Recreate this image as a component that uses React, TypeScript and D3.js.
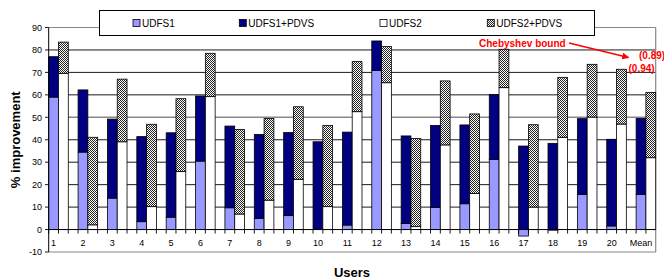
import React from "react";
import * as d3 from "d3";

const categories = ["1","2","3","4","5","6","7","8","9","10","11","12","13","14","15","16","17","18","19","20","Mean"];
const udfs1 = [59, 34.5, 14, 3.5, 5.5, 30.5, 9.7, 5, 6.2, 0, 2, 70.8, 2.7, 9.9, 11.5, 31.3, -2.9, -0.3, 15.7, 1.6, 15.7];
const udfs1Pdvs = [77, 62.2, 49.2, 41.4, 43.1, 59.5, 46.1, 42.4, 43.2, 39.1, 43.4, 84, 41.7, 46.4, 46.6, 60.1, 37.2, 38.4, 49.4, 40.2, 49.5];
const udfs2 = [69.6, 2.1, 39.1, 10.2, 25.8, 59.2, 6.9, 13.1, 22.4, 10.2, 52.5, 65.4, 1.3, 37.7, 16.1, 63.2, 10, 41.1, 50.1, 47, 32];
const udfs2Pdvs = [83.5, 41.1, 67, 46.9, 58.3, 78.5, 44.6, 49.5, 54.7, 46.4, 74.8, 81.5, 40.6, 66.2, 51.5, 80.3, 46.7, 67.8, 73.6, 71.4, 61.1];
const yTicks = [-10, 0, 10, 20, 30, 40, 50, 60, 70, 80, 90];
const legendItems = ["UDFS1", "UDFS1+PDVS", "UDFS2", "UDFS2+PDVS"];
const annotation = { label: "Chebyshev bound", a: "(0.89)", b: "(0.94)" };

const W = 664, H = 278;
const FONT = "'Liberation Sans', Arial, sans-serif";

export default function App() {
  const slots: string[] = [];
  categories.forEach((c, i) => {
    slots.push(c + "|a", c + "|b");
    if (i < categories.length - 1) slots.push(c + "|gap");
  });
  const x = d3.scaleBand<string>().domain(slots).range([48.7, 655.7]).paddingInner(0).paddingOuter(0);
  const y = d3.scaleLinear().domain([-10, 90]).range([252, 27.5]);
  const bw = x.bandwidth();
  const y0 = y(0);

  const colors = { u1: "#9999FF", u1p: "#000080", u2: "#FFFFFF", u2p: "url(#chk)" };
  const legendX = [133, 239.3, 380, 487.3];
  const legendFill = [colors.u1, colors.u1p, colors.u2, colors.u2p];

  const barRect = (key: string, xs: number, a: number, b: number, fill: string) => {
    const top = Math.min(y(a), y(b));
    const h = Math.abs(y(a) - y(b));
    if (h < 0.01) return null;
    return <rect key={key} x={xs} y={top} width={bw} height={h} fill={fill} stroke="#000" strokeWidth={0.8} />;
  };

  return (
    <svg width={W} height={H} style={{ position: "absolute", left: 0, top: 0, background: "#fff" }} fontFamily={FONT}>
      <defs>
        <pattern id="chk" width={2} height={2} patternUnits="userSpaceOnUse">
          <rect width={2} height={2} fill="#fff" />
          <rect width={1} height={1} fill="#222" />
          <rect x={1} y={1} width={1} height={1} fill="#222" />
        </pattern>
        <marker id="arr" viewBox="0 0 10 10" refX={9} refY={5} markerWidth={7} markerHeight={7} orient="auto" markerUnits="userSpaceOnUse">
          <path d="M0,0 L10,5 L0,10 z" fill="#FF0000" />
        </marker>
      </defs>
      <rect x={0} y={0} width={W} height={H} fill="#fff" />
      {/* gridlines */}
      {yTicks.filter(t => t > 0 && t < 90).map(t => (
        <line key={"g" + t} x1={48.7} x2={655.7} y1={y(t)} y2={y(t)}
          stroke={t === 50 ? "#888" : "#000"} strokeWidth={t === 50 ? 1.6 : 0.9} />
      ))}
      {/* plot border (gray) */}
      <line x1={48.7} x2={655.7} y1={y(90)} y2={y(90)} stroke="#888" strokeWidth={1.2} />
      <line x1={655.7} x2={655.7} y1={y(90)} y2={y(-10)} stroke="#888" strokeWidth={1.2} />
      <line x1={48.7} x2={655.7} y1={y(-10)} y2={y(-10)} stroke="#888" strokeWidth={1.2} />
      {/* bars */}
      {categories.map((c, i) => {
        const xa = x(c + "|a") as number;
        const xb = x(c + "|b") as number;
        return (
          <g key={c}>
            {barRect("a1", xa, 0, udfs1[i], colors.u1)}
            {barRect("a2", xa, Math.max(0, udfs1[i]), udfs1Pdvs[i], colors.u1p)}
            {barRect("b1", xb, 0, udfs2[i], colors.u2)}
            {barRect("b2", xb, Math.max(0, udfs2[i]), udfs2Pdvs[i], colors.u2p)}
          </g>
        );
      })}
      {/* x axis */}
      <line x1={48.7} x2={655.7} y1={y0} y2={y0} stroke="#000" strokeWidth={1} />
      {slots.map(s => (
        <line key={"t" + s} x1={x(s) as number} x2={x(s) as number} y1={y0} y2={y0 + 4} stroke="#000" strokeWidth={0.9} />
      ))}
      {categories.map(c => (
        <text key={"xl" + c} x={(x(c + "|a") as number) + bw / 2} y={246} fontSize={9} textAnchor="middle" fill="#000">{c}</text>
      ))}
      {/* y axis */}
      <line x1={48.7} x2={48.7} y1={y(90)} y2={y(-10)} stroke="#000" strokeWidth={1} />
      {yTicks.map(t => (
        <g key={"yt" + t}>
          <line x1={45} x2={48.7} y1={y(t)} y2={y(t)} stroke="#000" strokeWidth={0.9} />
          <text x={42} y={y(t) + 3.2} fontSize={9} textAnchor="end" fill="#000">{t}</text>
        </g>
      ))}
      <text transform={`translate(19.5,${(y(90) + y(-10)) / 2}) rotate(-90)`} textAnchor="middle" fontSize={13} fontWeight="bold">% improvement</text>
      <text x={352} y={276.5} textAnchor="middle" fontSize={13} fontWeight="bold">Users</text>
      {/* legend */}
      <rect x={99.5} y={10.5} width={495} height={25} fill="#fff" stroke="#000" strokeWidth={1} />
      {legendItems.map((l, i) => (
        <g key={l}>
          <rect x={legendX[i]} y={19.5} width={7} height={7} fill={legendFill[i]} stroke="#000" strokeWidth={0.8} />
          <text x={legendX[i] + 9} y={26.5} fontSize={10} fill="#000">{l}</text>
        </g>
      ))}
      {/* annotation */}
      <text x={479} y={46.5} fontSize={10} fontWeight="bold" fill="#FF0000">{annotation.label}</text>
      <line x1={569} y1={43} x2={628.5} y2={57.5} stroke="#FF0000" strokeWidth={1.6} markerEnd="url(#arr)" />
      <text x={639} y={58.5} fontSize={10} fontWeight="bold" fill="#FF0000">{annotation.a}</text>
      <text x={628.5} y={71.5} fontSize={10} fontWeight="bold" fill="#FF0000">{annotation.b}</text>
    </svg>
  );
}
